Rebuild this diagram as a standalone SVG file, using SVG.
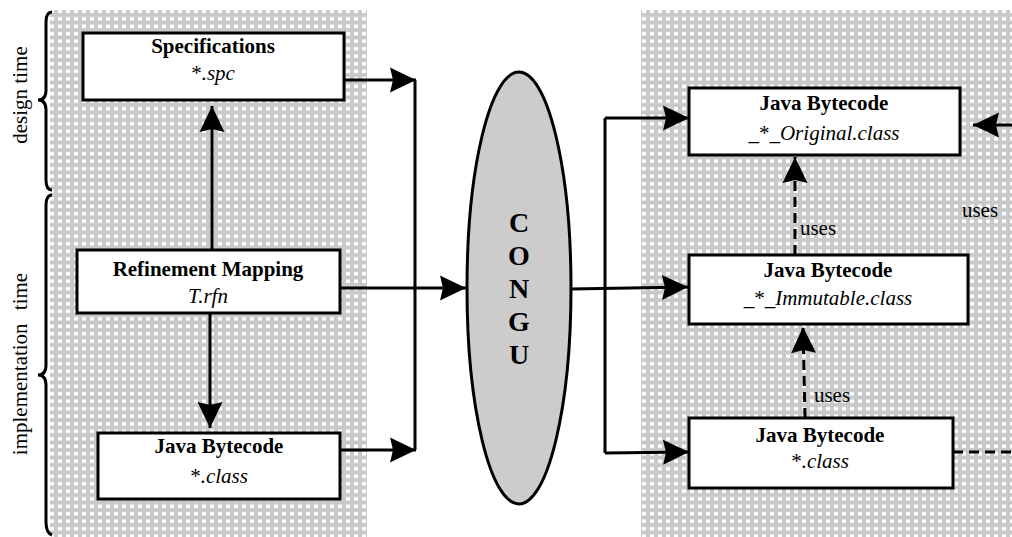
<svg xmlns="http://www.w3.org/2000/svg" width="1012" height="537" viewBox="0 0 1012 537">
<defs>
<pattern id="dots" patternUnits="userSpaceOnUse" width="8" height="7.5">
<rect width="8" height="7.5" fill="#c9c9c9"/>
<rect x="2" y="2" width="4" height="3.5" fill="#ffffff"/>
</pattern>
<marker id="ah" markerUnits="userSpaceOnUse" markerWidth="28" markerHeight="26" refX="26" refY="12.5" orient="auto" overflow="visible">
<path d="M0,0 L26,12.5 L0,25 L3,12.5 z" fill="#000" stroke="none"/>
</marker>
</defs>
<style>
.box{fill:#fff;stroke:#000;stroke-width:3}
.ln{fill:none;stroke:#000;stroke-width:3}
.dash{stroke-dasharray:10 6}
text{font-family:'Liberation Serif','DejaVu Serif',serif;font-size:21px;fill:#000;text-anchor:middle}
.b{font-weight:bold}
.i{font-style:italic}
.big{font-size:28px;font-weight:bold}
.brace{fill:none;stroke:#000;stroke-width:3}
</style>
<rect width="1012" height="537" fill="#fff"/>
<rect id="panel-left" x="50" y="10" width="317" height="527" fill="url(#dots)"/>
<rect id="panel-right" x="641" y="10" width="371" height="527" fill="url(#dots)"/>

<g id="braces">
<path class="brace" d="M52,12 Q46,12 46,22 L46,90 Q46,100 38,100 Q46,100 46,110 L46,180 Q46,190 52,190"/>
<path class="brace" d="M52,195 Q46,195 46,205 L46,365 Q46,375 38,375 Q46,375 46,385 L46,522 Q46,533 52,535"/>
<text transform="translate(27,95) rotate(-90)">design time</text>
<text transform="translate(27,364) rotate(-90)" word-spacing="8">implementation time</text>
</g>

<g id="connectors">
<path class="ln" d="M212,250 L212,106" marker-end="url(#ah)"/>
<path class="ln" d="M210,313 L210,428" marker-end="url(#ah)"/>
<path class="ln" d="M344,80 L416,80" marker-end="url(#ah)"/>
<path class="ln" d="M340,450 L416,450" marker-end="url(#ah)"/>
<path class="ln" d="M415,80 L415,450"/>
<path class="ln" d="M340,288 L466,288" marker-end="url(#ah)"/>
<path class="ln" d="M571,289 L688,287" marker-end="url(#ah)"/>
<path class="ln" d="M605,118 L605,453"/>
<path class="ln" d="M605,118 L689,118" marker-end="url(#ah)"/>
<path class="ln" d="M605,453 L689,452" marker-end="url(#ah)"/>
<path class="ln dash" d="M795,255 L795,157" marker-end="url(#ah)"/>
<path class="ln dash" d="M805,418 L803,327" marker-end="url(#ah)"/>
<path class="ln" d="M1012,125 L973,125" marker-end="url(#ah)"/>
<path class="ln dash" d="M953,452 L1012,452"/>
<text x="818" y="235">uses</text>
<text x="832" y="402">uses</text>
<text x="980" y="217">uses</text>
</g>

<g id="spec">
<rect class="box" x="83" y="33" width="261" height="67"/>
<text class="b" x="213" y="53">Specifications</text>
<text x="213" y="80">*<tspan class="i">.spc</tspan></text>
</g>

<g id="refinement">
<rect class="box" x="77" y="250" width="263" height="63"/>
<text class="b" x="208" y="276">Refinement Mapping</text>
<text class="i" x="208" y="303">T.rfn</text>
</g>

<g id="java-left">
<rect class="box" x="98" y="433" width="242" height="66"/>
<text class="b" x="219" y="453">Java Bytecode</text>
<text x="219" y="483">*<tspan class="i">.class</tspan></text>
</g>

<g id="congu">
<ellipse cx="519" cy="288" rx="52" ry="216" fill="#cccccc" stroke="#000" stroke-width="3"/>
<text class="big" x="519" y="232">C<tspan x="519" y="265">O</tspan><tspan x="519" y="298">N</tspan><tspan x="519" y="331">G</tspan><tspan x="519" y="364">U</tspan></text>
</g>

<g id="java-original">
<rect class="box" x="689" y="88" width="271" height="67"/>
<text class="b" x="824" y="110">Java Bytecode</text>
<text x="824" y="140">_*_<tspan class="i">Original.class</tspan></text>
</g>

<g id="java-immutable">
<rect class="box" x="689" y="255" width="279" height="69"/>
<text class="b" x="828" y="277">Java Bytecode</text>
<text x="828" y="305">_*_<tspan class="i">Immutable.class</tspan></text>
</g>

<g id="java-class">
<rect class="box" x="689" y="418" width="264" height="70"/>
<text class="b" x="820" y="442">Java Bytecode</text>
<text x="820" y="468">*<tspan class="i">.class</tspan></text>
</g>
</svg>
